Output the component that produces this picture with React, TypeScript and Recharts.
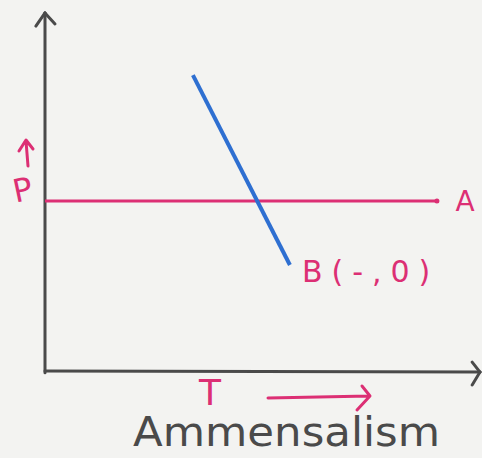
import React from "react";
import {
  LineChart,
  Line,
  XAxis,
  YAxis,
  ReferenceLine,
  ReferenceDot,
  Label,
  Customized,
} from "recharts";

// Population A stays flat over time (unaffected)
const seriesA = [
  { t: 0, p: 47.6 },
  { t: 90.1, p: 47.6 },
];

// Population B declines over time (harmed)
const seriesB = [
  { t: 34.0, p: 82.9 },
  { t: 56.3, p: 29.7 },
];

const labelA = "A";
const labelB = "B(-,0)";
const axisLabelY = "P";
const axisLabelX = "T";
const title = "Ammensalism";

const PINK = "#dc2f74";
const BLUE = "#2e6fd1";
const INK = "#4a4a4a";

// axis lines with arrowhead strokes at their ends
const axisSegments = [
  [{ x: 0, y: -0.5 }, { x: 0, y: 100.3 }],
  [{ x: 0, y: 0 }, { x: 100, y: -0.3 }],
  [{ x: -2.1, y: 96.6 }, { x: 0, y: 100.3 }],
  [{ x: 2.3, y: 97.2 }, { x: 0, y: 100.3 }],
  [{ x: 98.2, y: 2.5 }, { x: 100, y: -0.3 }],
  [{ x: 98.2, y: -3.9 }, { x: 100, y: -0.3 }],
];

const Annotations = () => (
  <g>
    {/* P with an upward arrow */}
    <text
      x={13}
      y={201}
      fill={PINK}
      fontSize={32}
      fontFamily="DejaVu Sans"
      transform="rotate(-12 22 190)"
    >
      {axisLabelY}
    </text>
    <path
      d="M28 166 L26 141 M19 151 L26 140 L33 149"
      stroke={PINK}
      strokeWidth={3}
      fill="none"
      strokeLinecap="round"
      strokeLinejoin="round"
    />
    {/* T with a rightward arrow */}
    <text x={199} y={405} fill={PINK} fontSize={36} fontFamily="DejaVu Sans">
      {axisLabelX}
    </text>
    <path
      d="M268 398 L369 396 M362 386 L370 396 L357 410"
      stroke={PINK}
      strokeWidth={3}
      fill="none"
      strokeLinecap="round"
      strokeLinejoin="round"
    />
    <text
      x={133}
      y={446}
      fill={INK}
      fontSize={40}
      fontFamily="DejaVu Sans"
      textLength={307}
      lengthAdjust="spacingAndGlyphs"
    >
      {title}
    </text>
  </g>
);

export default function App() {
  return (
    <div
      style={{
        position: "absolute",
        left: 0,
        top: 0,
        width: 482,
        height: 458,
        background: "#f3f3f1",
      }}
    >
      <LineChart
        width={482}
        height={458}
        margin={{ top: 14, right: 2, bottom: 87, left: 45 }}
      >
        <XAxis
          type="number"
          dataKey="t"
          domain={[0, 100]}
          allowDataOverflow
          hide
        />
        <YAxis
          type="number"
          dataKey="p"
          domain={[0, 100]}
          allowDataOverflow
          hide
        />
        {axisSegments.map((seg, i) => (
          <ReferenceLine
            key={i}
            segment={seg}
            stroke={INK}
            strokeWidth={3}
            strokeLinecap="round"
            ifOverflow="visible"
          />
        ))}
        <Line
          data={seriesA}
          dataKey="p"
          stroke={PINK}
          strokeWidth={3}
          dot={false}
          isAnimationActive={false}
        />
        <Line
          data={seriesB}
          dataKey="p"
          stroke={BLUE}
          strokeWidth={4}
          dot={false}
          isAnimationActive={false}
        />
        <ReferenceDot
          x={seriesA[1].t}
          y={seriesA[1].p}
          r={2.5}
          fill={PINK}
          stroke="none"
          ifOverflow="visible"
        >
          <Label
            value={labelA}
            position="right"
            offset={16}
            fill={PINK}
            fontSize={28}
            fontFamily="DejaVu Sans"
          />
        </ReferenceDot>
        <ReferenceDot
          x={seriesB[1].t}
          y={seriesB[1].p}
          r={0}
          fill="none"
          stroke="none"
          ifOverflow="visible"
        >
          <Label
            value={labelB}
            position="right"
            offset={12}
            dy={6}
            fill={PINK}
            fontSize={30}
            fontFamily="DejaVu Sans"
            letterSpacing={9}
          />
        </ReferenceDot>
        <Customized component={Annotations} />
      </LineChart>
    </div>
  );
}
